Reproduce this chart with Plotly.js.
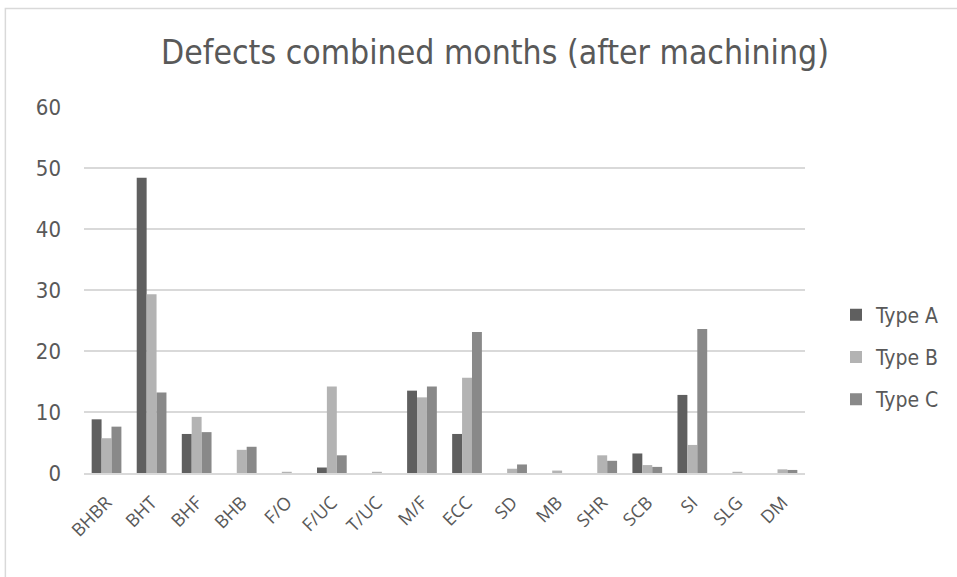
<!DOCTYPE html>
<html>
<head>
<meta charset="utf-8">
<script src="https://cdn.plot.ly/plotly-3.0.1.min.js"></script>
<style>
html,body{margin:0;padding:0;background:#fff;}
#chart{width:957px;height:577px;}
</style>
</head>
<body>
<div id="chart"></div>
<script>
const categories = ["BHBR","BHT","BHF","BHB","F/O","F/UC","T/UC","M/F","ECC","SD","MB","SHR","SCB","SI","SLG","DM"];
const typeA = [8.8, 48.4, 6.4, 0, 0, 0.9, 0, 13.5, 6.4, 0, 0, 0, 3.2, 12.8, 0, 0];
const typeB = [5.7, 29.3, 9.2, 3.8, 0.2, 14.2, 0.2, 12.4, 15.6, 0.7, 0.4, 2.9, 1.3, 4.6, 0.2, 0.6];
const typeC = [7.6, 13.2, 6.7, 4.3, 0, 2.9, 0, 14.2, 23.1, 1.4, 0, 2.0, 1.0, 23.6, 0, 0.5];
const seriesNames = ["Type A","Type B","Type C"];
const yTicks = [0,10,20,30,40,50,60];

const colors = ["#5f5f5f","#b3b3b3","#898989"];
const vals = [typeA, typeB, typeC];
const traces = vals.map((v,i)=>({
  type:"bar", x:categories, y:v, name:seriesNames[i], legendgroup:"g"+i,
  marker:{color:colors[i]}
}));

const NARROW = "DejaVu Sans Condensed, Liberation Sans Narrow, sans-serif";
const layout = {
  width:957, height:577,
  margin:{l:84, r:144, t:107, b:104, pad:0},
  paper_bgcolor:"#fff", plot_bgcolor:"#fff",
  barmode:"group", bargap:0.34, bargroupgap:0,
  font:{family:NARROW, color:"#595959"},
  title:{text:"Defects combined months (after machining)", x:495/957, xref:"container", xanchor:"center", y:0.91, yref:"container", yanchor:"middle",
    font:{family:NARROW, size:33.5, color:"#595959"}},
  xaxis:{type:"category", tickangle:-45, showgrid:false, showline:true, linecolor:"#d9d9d9", linewidth:2,
    ticks:"", ticklabelstandoff:10, tickfont:{family:"Open Sans, sans-serif", size:18, color:"#595959"}, automargin:false},
  yaxis:{range:[0,60], tickvals:yTicks, showgrid:true, gridcolor:"#d9d9d9", gridwidth:1.5, zeroline:false,
    showline:false, ticks:"", ticklabelstandoff:22, tickfont:{family:NARROW, size:22, color:"#595959"}, automargin:false},
  legend:{x:1.043, xanchor:"left", y:0.317, yanchor:"middle", tracegroupgap:12, traceorder:"grouped",
    font:{family:NARROW, size:21, color:"#595959"}, itemwidth:30},
  shapes:[{type:"rect", xref:"paper", yref:"paper", x0:(4.5-84)/729, x1:(990-84)/729, y0:(473-620)/366, y1:(473-8.5)/366,
    line:{color:"#d9d9d9", width:1.5}, fillcolor:"rgba(0,0,0,0)", layer:"below"}],
  showlegend:true
};
Plotly.newPlot("chart", traces, layout, {displayModeBar:false, staticPlot:true});
</script>
</body>
</html>
